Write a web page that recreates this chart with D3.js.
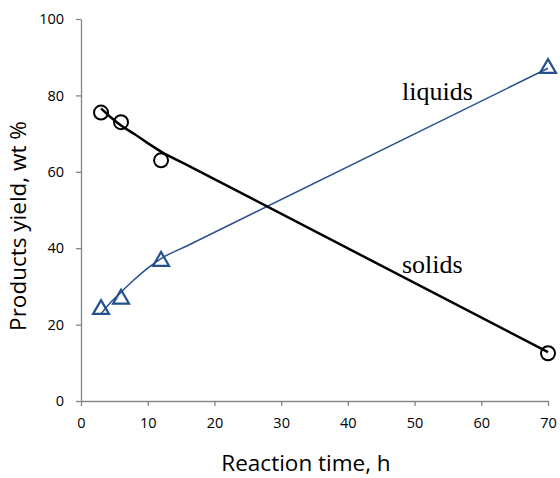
<!DOCTYPE html>
<html>
<head>
<meta charset="utf-8">
<script src="https://cdn.jsdelivr.net/npm/d3@7"></script>
<style>
  html, body { margin: 0; padding: 0; background: #fff; }
  svg { display: block; }
</style>
</head>
<body>
<svg id="chart" width="560" height="478"></svg>
<script>
// Measured yields vs reaction time
const timeH = [3, 6, 12, 70];
const solids = [75.5, 73, 63, 12.5];
const liquids = [24, 26.7, 36.6, 87.1];

// Fitted trend curves
const solidsFitX = [3, 4.5, 6, 8, 10, 12, 16, 70];
const solidsFitY = [76.6, 74.2, 72.1, 69.9, 67.5, 65.3, 61.7, 12.8];
const liquidsFitX = [3, 4.5, 6, 8, 10, 12, 16, 70];
const liquidsFitY = [22.8, 25.9, 28.5, 31.8, 34.8, 37.3, 40.7, 87.1];

const xTicks = [0, 10, 20, 30, 40, 50, 60, 70];
const yTicks = [0, 20, 40, 60, 80, 100];

const svg = d3.select("#chart");
const plotLeft = 81, plotRight = 548, plotTop = 19, plotBottom = 401;
const x = d3.scaleLinear().domain([0, 70]).range([plotLeft, plotRight]);
const y = d3.scaleLinear().domain([0, 100]).range([plotBottom, plotTop]);

const axisColor = "#868686";
const blue = "#25508c";
const tickFont = "'Open Sans', 'DejaVu Sans', sans-serif";

// Axes
const xAxis = svg.append("g").attr("transform", `translate(0,${plotBottom})`)
  .call(d3.axisBottom(x).tickValues(xTicks).tickSize(5).tickSizeOuter(0).tickPadding(12));
const yAxis = svg.append("g").attr("transform", `translate(${plotLeft},0)`)
  .call(d3.axisLeft(y).tickValues(yTicks).tickSize(5).tickSizeOuter(0).tickPadding(12));
[xAxis, yAxis].forEach(a => {
  a.select(".domain").attr("stroke", axisColor).attr("stroke-width", 1.3);
  a.selectAll(".tick line").attr("stroke", axisColor).attr("stroke-width", 1.3);
  a.selectAll(".tick text").attr("fill", "#000").style("font-family", tickFont).style("font-size", "14.5px");
});

// Axis titles
svg.append("text").attr("x", 306).attr("y", 471).attr("text-anchor", "middle")
  .style("font-family", tickFont).style("font-size", "22.5px").text("Reaction time, h");
svg.append("text").attr("transform", "translate(26,226) rotate(-90)").attr("text-anchor", "middle")
  .style("font-family", tickFont).style("font-size", "22.5px").text("Products yield, wt %");

// Trend curves
const line = d3.line().x(d => x(d[0])).y(d => y(d[1])).curve(d3.curveMonotoneX);
svg.append("path").datum(d3.zip(liquidsFitX, liquidsFitY)).attr("d", line)
  .attr("fill", "none").attr("stroke", blue).attr("stroke-width", 1.5);
svg.append("path").datum(d3.zip(solidsFitX, solidsFitY)).attr("d", line)
  .attr("fill", "none").attr("stroke", "#000").attr("stroke-width", 2.5);

// Markers: circles for solids
svg.append("g").selectAll("circle").data(d3.zip(timeH, solids)).join("circle")
  .attr("cx", d => x(d[0])).attr("cy", d => y(d[1])).attr("r", 7)
  .attr("fill", "none").attr("stroke", "#000").attr("stroke-width", 2);

// Markers: triangles for liquids
const tri = d3.symbol().type(d3.symbolTriangle).size(110);
svg.append("g").selectAll("path").data(d3.zip(timeH, liquids)).join("path")
  .attr("d", tri).attr("transform", d => `translate(${x(d[0])},${y(d[1])})`)
  .attr("fill", "none").attr("stroke", blue).attr("stroke-width", 2.2);

// Series labels
const serif = "'Liberation Serif', 'DejaVu Serif', serif";
svg.append("text").attr("x", 402).attr("y", 100).style("font-family", serif)
  .style("font-size", "26px").text("liquids");
svg.append("text").attr("x", 402).attr("y", 273).style("font-family", serif)
  .style("font-size", "26px").text("solids");
</script>
</body>
</html>
